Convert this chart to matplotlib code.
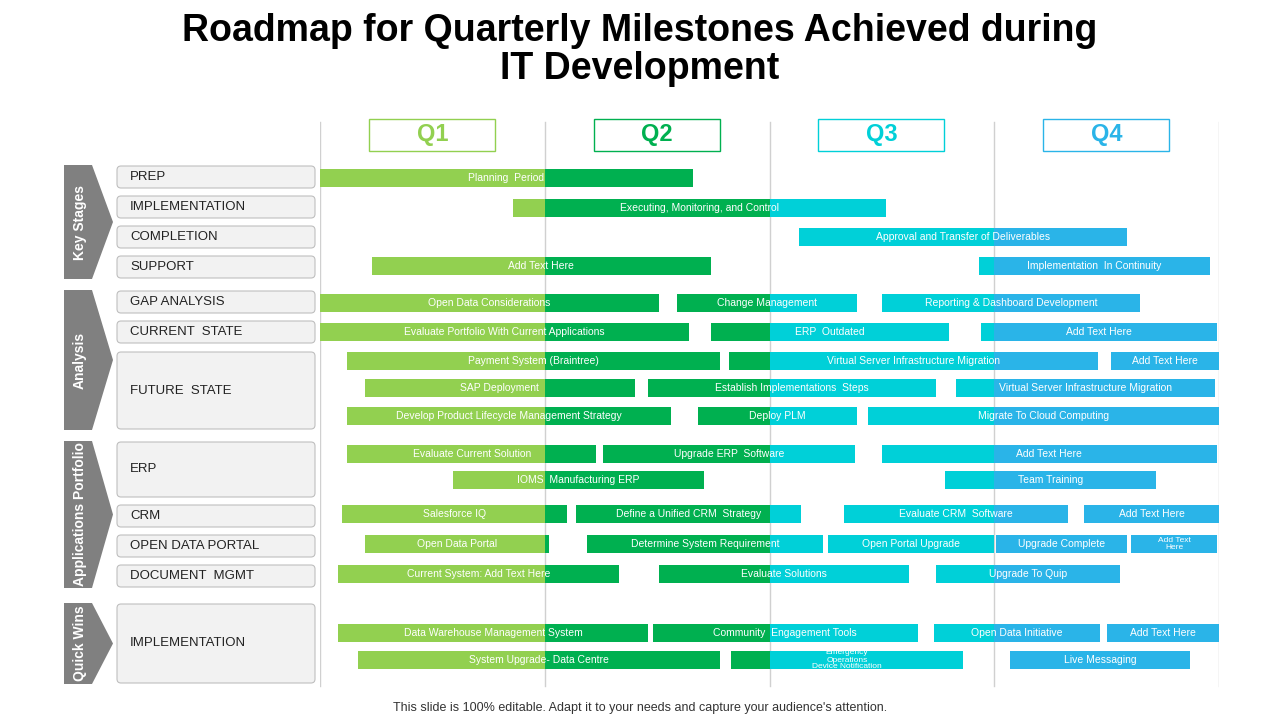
import matplotlib
matplotlib.use("Agg")
import matplotlib.pyplot as plt
from matplotlib.patches import Polygon, FancyBboxPatch, Rectangle

plt.rcParams["font.family"] = "Liberation Sans"

quarters = ["Q1", "Q2", "Q3", "Q4"]
q_colors = ["#92D050", "#00B050", "#00D0D8", "#2AB4E8"]

groups = ["Key Stages", "Analysis", "Applications Portfolio", "Quick Wins"]
group_spans = [(165, 279), (290, 430), (441, 588), (603, 684)]
row_labels = ["PREP", "IMPLEMENTATION", "COMPLETION", "SUPPORT", "GAP ANALYSIS", "CURRENT  STATE",
              "FUTURE  STATE", "ERP", "CRM", "OPEN DATA PORTAL", "DOCUMENT  MGMT", "IMPLEMENTATION"]
row_spans = [(165, 189), (195, 219), (225, 249), (255, 279), (290, 314), (320, 344),
             (351, 430), (441, 498), (504, 528), (534, 558), (564, 588), (603, 684)]

# bars: (lane y, start quarter, end quarter, label)
bar_lanes = [178, 208, 237, 266, 266, 303, 303, 303, 332, 332, 332, 361, 361, 361,
             388, 388, 388, 416, 416, 416, 454, 454, 454, 480, 480,
             514, 514, 514, 514, 544, 544, 544, 544, 544, 574, 574, 574,
             633, 633, 633, 633, 660, 660, 660]
bar_start = [0.00, 0.86, 2.13, 0.23, 2.93, 0.00, 1.59, 2.50, 0.00, 1.74, 2.94, 0.12, 1.82, 3.52,
             0.20, 1.46, 2.83, 0.12, 1.68, 2.44, 0.12, 1.26, 2.50, 0.59, 2.78,
             0.10, 1.14, 2.33, 3.40, 0.20, 1.19, 2.26, 3.01, 3.61, 0.08, 1.51, 2.74,
             0.08, 1.48, 2.73, 3.50, 0.17, 1.83, 3.07]
bar_end = [1.66, 2.52, 3.59, 1.74, 3.96, 1.51, 2.39, 3.65, 1.64, 2.80, 3.99, 1.78, 3.46, 4.00,
           1.40, 2.74, 3.98, 1.56, 2.39, 4.00, 1.23, 2.38, 3.99, 1.71, 3.72,
           1.10, 2.14, 3.33, 4.00, 1.02, 2.24, 3.00, 3.59, 3.99, 1.33, 2.62, 3.56,
           1.46, 2.66, 3.47, 4.00, 1.78, 2.86, 3.87]
bar_text = ["Planning  Period", "Executing, Monitoring, and Control", "Approval and Transfer of Deliverables",
            "Add Text Here", "Implementation  In Continuity",
            "Open Data Considerations", "Change Management", "Reporting & Dashboard Development",
            "Evaluate Portfolio With Current Applications", "ERP  Outdated", "Add Text Here",
            "Payment System (Braintree)", "Virtual Server Infrastructure Migration", "Add Text Here",
            "SAP Deployment", "Establish Implementations  Steps", "Virtual Server Infrastructure Migration",
            "Develop Product Lifecycle Management Strategy", "Deploy PLM", "Migrate To Cloud Computing",
            "Evaluate Current Solution", "Upgrade ERP  Software", "Add Text Here",
            "IOMS  Manufacturing ERP", "Team Training",
            "Salesforce IQ", "Define a Unified CRM  Strategy", "Evaluate CRM  Software", "Add Text Here",
            "Open Data Portal", "Determine System Requirement", "Open Portal Upgrade", "Upgrade Complete",
            "Add Text\nHere",
            "Current System: Add Text Here", "Evaluate Solutions", "Upgrade To Quip",
            "Data Warehouse Management System", "Community  Engagement Tools", "Open Data Initiative",
            "Add Text Here",
            "System Upgrade- Data Centre", "Emergency\nOperations\nDevice Notification", "Live Messaging"]

fig = plt.figure(figsize=(12.8, 7.2), dpi=100)
bg = fig.add_axes([0, 0, 1, 1])
bg.set_xlim(0, 1280); bg.set_ylim(720, 0); bg.axis("off")

bg.text(640, 31, "Roadmap for Quarterly Milestones Achieved during", ha="center", va="center",
        fontsize=27, fontweight="bold")
bg.text(640, 69, "IT Development", ha="center", va="center", fontsize=27, fontweight="bold")
bg.text(640, 708, "This slide is 100% editable. Adapt it to your needs and capture your audience's attention.",
        ha="center", va="center", fontsize=9, color="#333333")

for g, (t, b) in zip(groups, group_spans):
    m = (t + b) / 2
    bg.add_patch(Polygon([(64, t), (92, t), (113, m), (92, b), (64, b)], closed=True,
                         facecolor="#808080", edgecolor="none"))
    bg.text(80, m, g, rotation=90, ha="center", va="center", color="white", fontsize=10, fontweight="bold")

for lab, (t, b) in zip(row_labels, row_spans):
    bg.add_patch(FancyBboxPatch((117, t + 1), 198, b - t - 2, boxstyle="round,pad=0,rounding_size=4",
                                facecolor="#F2F2F2", edgecolor="#BFBFBF", linewidth=0.8))
    bg.text(130, (t + b) / 2, lab, ha="left", va="center", fontsize=9.5, color="#222222")

x0, x1 = 320, 1219
ax = fig.add_axes([x0 / 1280, 0, (x1 - x0) / 1280, 1])
ax.set_xlim(0, 4); ax.set_ylim(720, 0); ax.axis("off")
ax.patch.set_alpha(0)

for k in range(5):
    ax.plot([k, k], [122, 686], color="#D0D0D0", linewidth=1, zorder=0)

for k, (q, c) in enumerate(zip(quarters, q_colors)):
    ax.add_patch(Rectangle((k + 0.218, 119), 0.56, 32, facecolor="white", edgecolor=c, linewidth=1))
    ax.text(k + 0.5, 135, q, ha="center", va="center", fontsize=17, fontweight="bold", color=c)

h = 18
for y, s, e, t in zip(bar_lanes, bar_start, bar_end, bar_text):
    for k in range(4):
        a, b = max(s, k), min(e, k + 1)
        if b > a:
            ax.add_patch(Rectangle((a, y - h / 2), b - a, h, facecolor=q_colors[k], edgecolor="none", zorder=2))
    clip = Rectangle((s, y - h / 2), e - s, h, transform=ax.transData)
    fs = 6 if "\n" in t else 7.5
    txt = ax.text((s + e) / 2, y, t, ha="center", va="center", fontsize=fs, color="white", zorder=3,
                  linespacing=1.0)
    txt.set_clip_path(clip)

fig.savefig("out.png", dpi=100)
